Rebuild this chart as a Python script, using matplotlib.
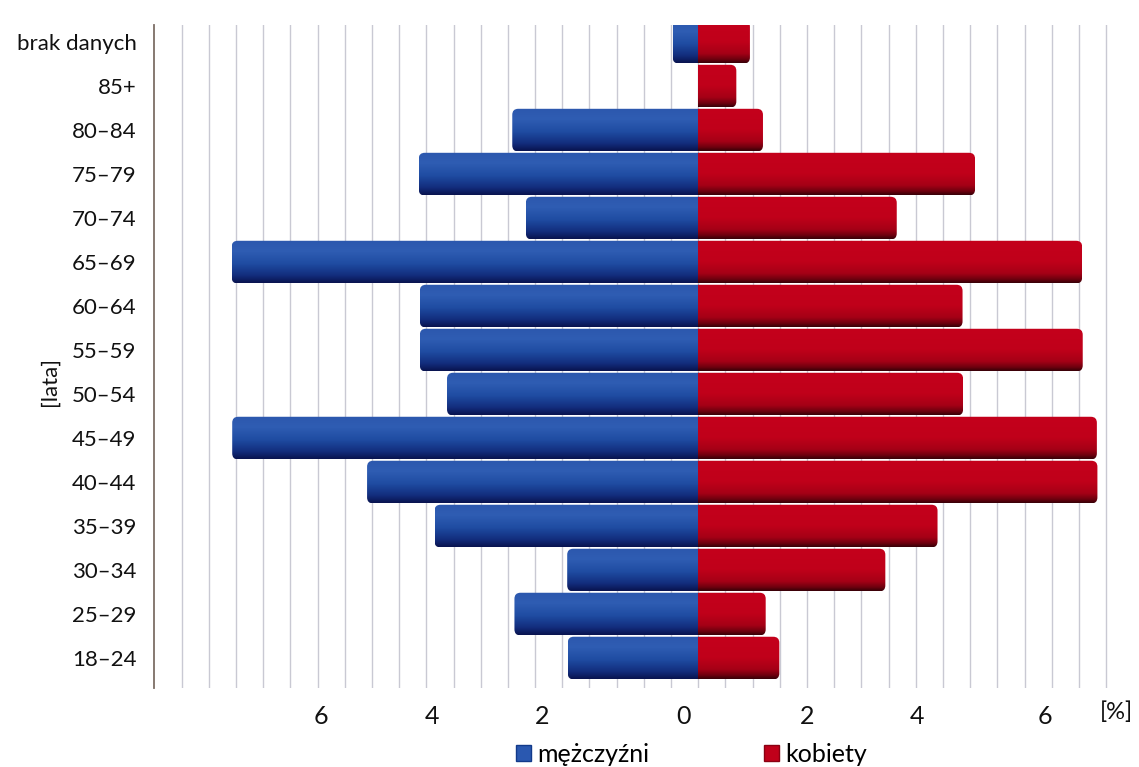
import matplotlib.pyplot as plt
import numpy as np
from matplotlib.patches import FancyBboxPatch, Patch
from matplotlib.colors import LinearSegmentedColormap

plt.rcParams['font.family'] = ['Lato', 'DejaVu Sans']

# age groups, bottom to top
groups = ['18–24', '25–29', '30–34', '35–39', '40–44', '45–49', '50–54', '55–59',
          '60–64', '65–69', '70–74', '75–79', '80–84', '85+', 'brak danych']
men = [2.40, 3.38, 2.41, 4.85, 6.09, 8.57, 4.62, 5.12, 5.12, 8.58, 3.17, 5.14, 3.42, 0.0, 0.47]
women = [1.49, 1.24, 3.44, 4.40, 7.34, 7.33, 4.87, 7.07, 4.86, 7.06, 3.65, 5.09, 1.19, 0.70, 0.95]

# axis labels as printed (placed where they sit in the original)
tick_pos = [-6.93, -4.89, -2.87, -0.27, 2.0, 4.02, 6.37]
tick_lab = ['6', '4', '2', '0', '2', '4', '6']

blue_cm = LinearSegmentedColormap.from_list('b', [(0, '#2c58ae'), (0.25, '#2f5db3'), (0.55, '#1f4ca2'),
                                                  (0.82, '#132e7e'), (1.0, '#091450')])
red_cm = LinearSegmentedColormap.from_list('r', [(0, '#c4001c'), (0.5, '#c0001a'), (0.78, '#a50016'),
                                                 (0.92, '#6c000e'), (1.0, '#3a0008')])

fig = plt.figure(figsize=(11.39, 7.67), dpi=100)
ax = fig.add_axes([0.1356, 0.103, 0.8403, 0.865])

XL = (-10, 7.6)
YL = (-0.68, 14.4)
px_x = 54.4   # pixels per x unit
px_y = 44.0   # pixels per row
rad = 6 / px_x


def cyl_bar(ax, y, val, cmap, side):
    if val <= 0:
        return
    h = 0.97
    if side < 0:
        x0, x1 = -val, 0
        cx0, cx1 = -val, rad * 2
    else:
        x0, x1 = 0, val
        cx0, cx1 = -rad * 2, val
    grad = np.linspace(0, 1, 80).reshape(-1, 1)
    im = ax.imshow(grad, extent=(x0, x1, y - h / 2, y + h / 2), origin='upper', cmap=cmap,
                   aspect='auto', interpolation='bilinear', zorder=3)
    clip = FancyBboxPatch((cx0, y - h / 2), cx1 - cx0, h,
                          boxstyle='round,pad=0,rounding_size=%f' % rad,
                          mutation_aspect=px_x / px_y, facecolor='none', edgecolor='none',
                          transform=ax.transData)
    ax.add_patch(clip)
    im.set_clip_path(clip)


for x in np.arange(-9.5, 7.51, 0.5):
    ax.axvline(x, color='#c9c9d3', lw=1.0, zorder=1)

for i in range(len(groups)):
    cyl_bar(ax, i, men[i], blue_cm, -1)
    cyl_bar(ax, i, women[i], red_cm, 1)

ax.set_xlim(*XL)
ax.set_ylim(*YL)

ax.set_yticks(range(len(groups)))
ax.set_yticklabels(groups, fontsize=16, color='#111111')
ax.set_xticks(tick_pos)
ax.set_xticklabels(tick_lab, fontsize=18, color='#111111')
ax.tick_params(axis='both', length=0)
ax.tick_params(axis='y', pad=13)
ax.tick_params(axis='x', pad=12)

for s in ['top', 'right', 'bottom']:
    ax.spines[s].set_visible(False)
ax.spines['left'].set_color('#7d6e66')
ax.spines['left'].set_linewidth(1.3)

ax.text(7.69, -1.22, '[%]', fontsize=17, color='#111111', ha='center', va='center')
fig.text(0.044, 0.502, '[lata]', rotation=90, fontsize=16, color='#111111', ha='center', va='center')

handles = [Patch(facecolor='#2a58b0', edgecolor='#123a8a'), Patch(facecolor='#c0001a', edgecolor='#8a0012')]
fig.legend(handles, ['mężczyźni', 'kobiety'], loc='center', bbox_to_anchor=(0.607, 0.016),
           ncol=2, frameon=False, fontsize=18, handlelength=0.6, handleheight=0.6,
           handletextpad=0.25, columnspacing=4.6)

fig.savefig('out.png', dpi=100)
